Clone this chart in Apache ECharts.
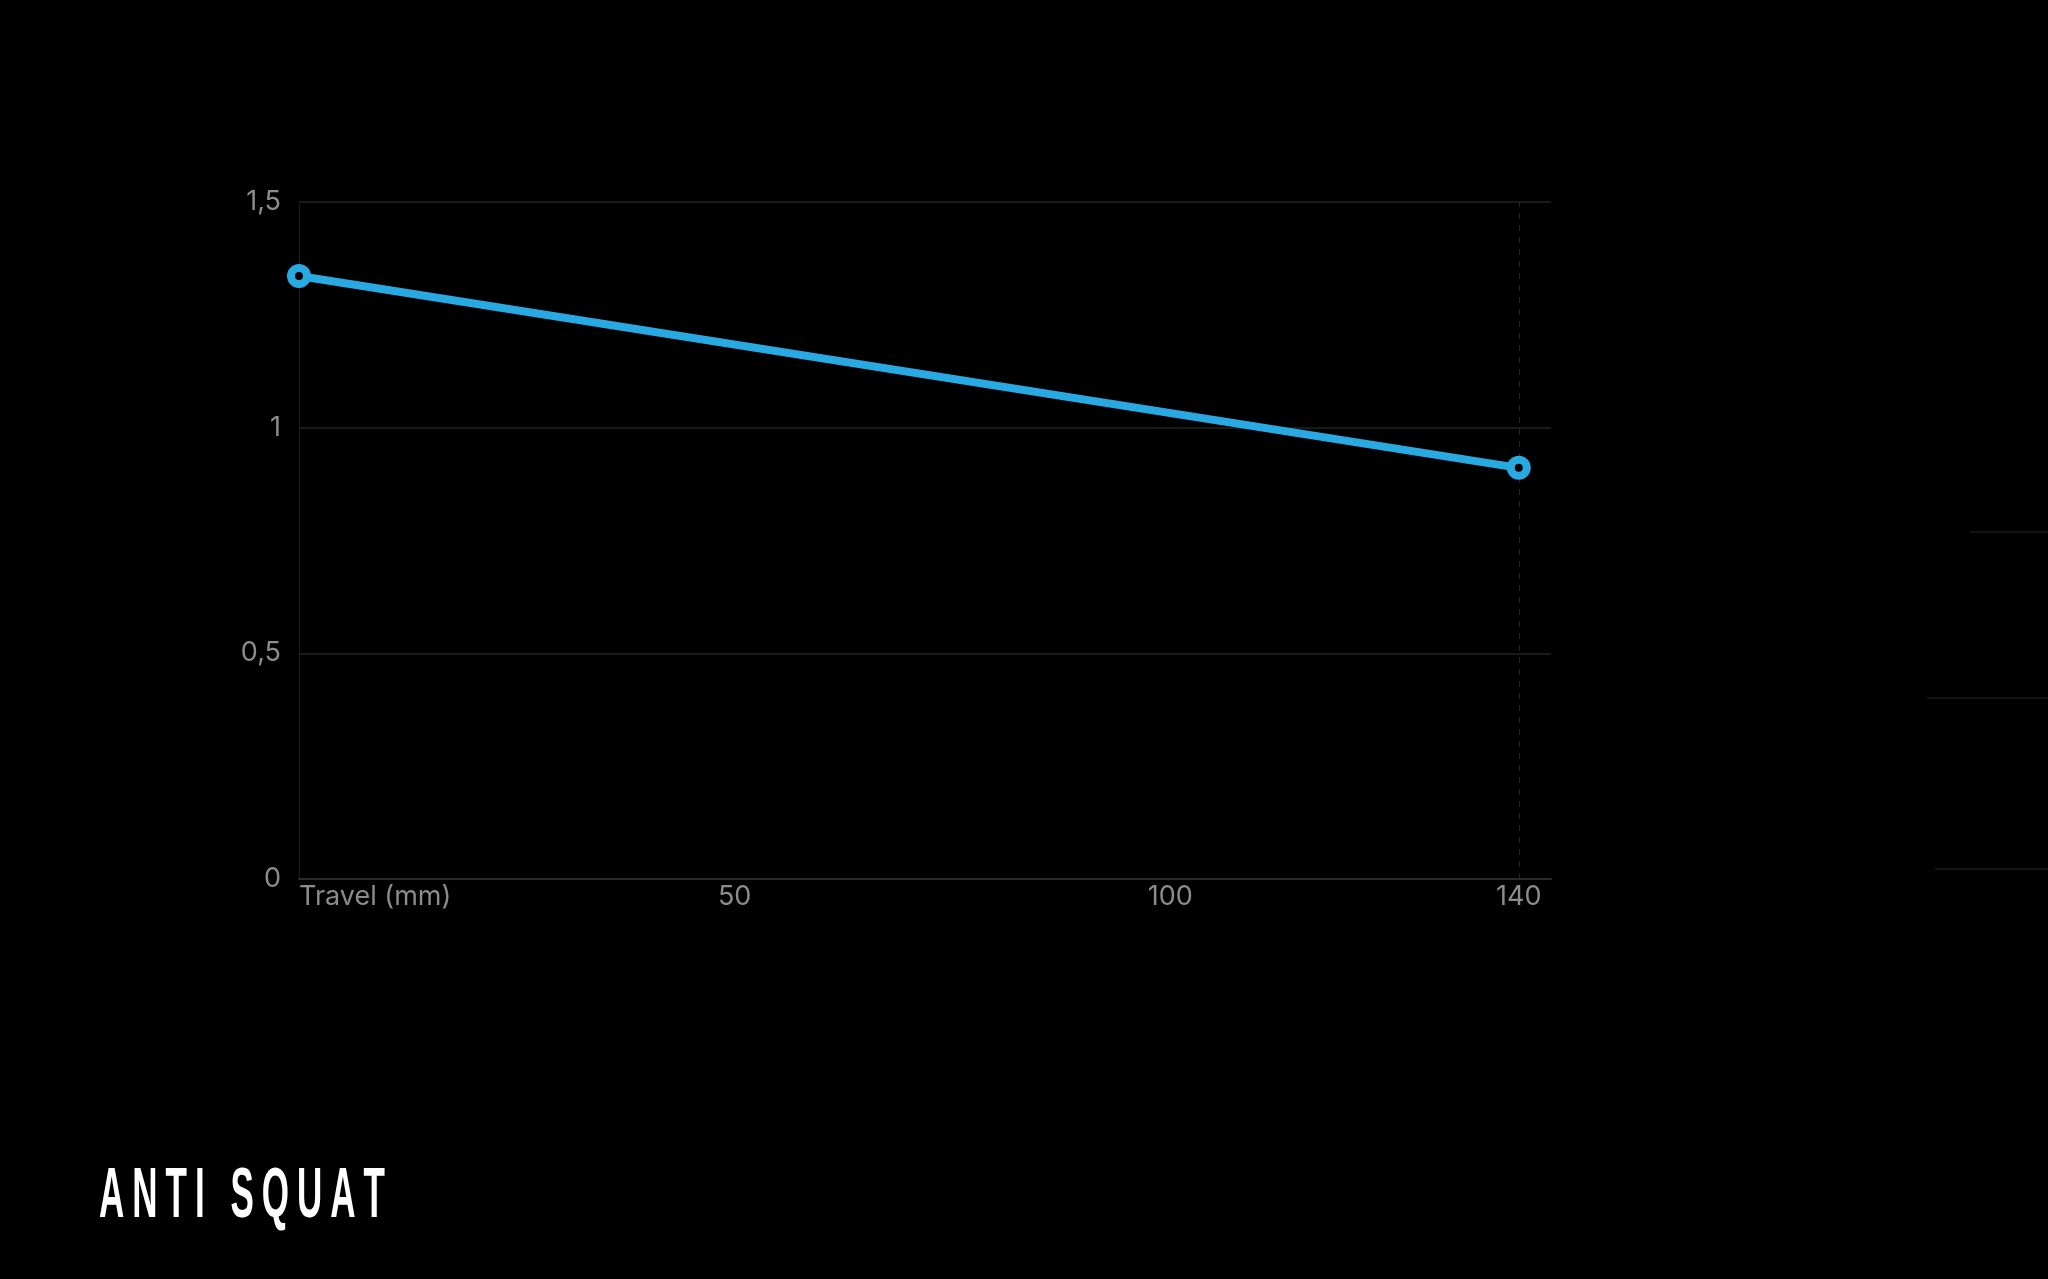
<!DOCTYPE html>
<html>
<head>
<meta charset="utf-8">
<script src="https://cdn.jsdelivr.net/npm/echarts@6/dist/echarts.min.js"></script>
<style>
  html, body { margin: 0; padding: 0; background: #000; }
  #chart { width: 2048px; height: 1279px; }
</style>
</head>
<body>
<div id="chart"></div>
<script>
const travel = [0, 140];
const antiSquat = [1.336, 0.911];
const xTickValues = [0, 50, 100, 140];
const xAxisName = 'Travel (mm)';
const yTickValues = [0, 0.5, 1, 1.5];
const title = 'ANTI SQUAT';

const FONT = 'Inter, "Liberation Sans", Arial, sans-serif';
const chart = echarts.init(document.getElementById('chart'));
const titleRich = title.split('').map(ch => '{c|' + ch + '}').join('');
const option = {
  backgroundColor: '#000000',
  animation: false,
  grid: { left: 299, right: 497, top: 202, bottom: 400 },
  xAxis: {
    type: 'value',
    min: 0,
    max: 143.7,
    axisLine: { show: true, lineStyle: { color: '#2a2a2a', width: 2 } },
    axisTick: { show: false },
    splitLine: { show: false },
    axisLabel: {
      customValues: xTickValues,
      color: '#8c8c8c',
      fontSize: 27,
      fontFamily: FONT,
      margin: 4,
      alignMinLabel: 'left',
      formatter: function (v) { return v === 0 ? xAxisName : String(v); }
    }
  },
  yAxis: {
    type: 'value',
    min: yTickValues[0],
    max: yTickValues[yTickValues.length - 1],
    interval: 0.5,
    axisLine: { show: true, lineStyle: { color: '#1c1c1c', width: 1 } },
    axisTick: { show: false },
    splitLine: { show: true, lineStyle: { color: '#1a1a1a', width: 2 } },
    axisLabel: {
      color: '#8c8c8c',
      fontSize: 27,
      fontFamily: FONT,
      margin: 18,
      formatter: function (v) { return String(v).replace('.', ','); }
    }
  },
  series: [{
    type: 'line',
    data: travel.map((t, i) => [t, antiSquat[i]]),
    symbol: 'circle',
    symbolSize: 16,
    showAllSymbol: true,
    lineStyle: { color: '#29a9e1', width: 8 },
    itemStyle: { color: '#000000', borderColor: '#29a9e1', borderWidth: 8 },
    markLine: {
      silent: true,
      symbol: 'none',
      label: { show: false },
      lineStyle: { color: '#262626', type: [6, 6], width: 1 },
      data: [{ xAxis: travel[1] }]
    },
    z: 5
  }],
  graphic: [
    { type: 'line', shape: { x1: 1970, y1: 532, x2: 2048, y2: 532 }, style: { stroke: '#1a1a1a', lineWidth: 1.5 } },
    { type: 'line', shape: { x1: 1927, y1: 698, x2: 2048, y2: 698 }, style: { stroke: '#1a1a1a', lineWidth: 1.5 } },
    { type: 'line', shape: { x1: 1935, y1: 869, x2: 2048, y2: 869 }, style: { stroke: '#1a1a1a', lineWidth: 1.5 } },
    {
      type: 'text',
      x: 99,
      y: 1198,
      scaleX: 0.5,
      style: {
        text: titleRich,
        fill: '#ffffff',
        verticalAlign: 'middle',
        align: 'left',
        rich: {
          c: {
            fill: '#ffffff',
            fontSize: 70,
            fontWeight: 'bold',
            fontFamily: '"Liberation Sans", Arial, sans-serif',
            padding: [0, 16, 0, 0]
          }
        }
      }
    }
  ]
};
chart.setOption(option);
</script>
</body>
</html>
